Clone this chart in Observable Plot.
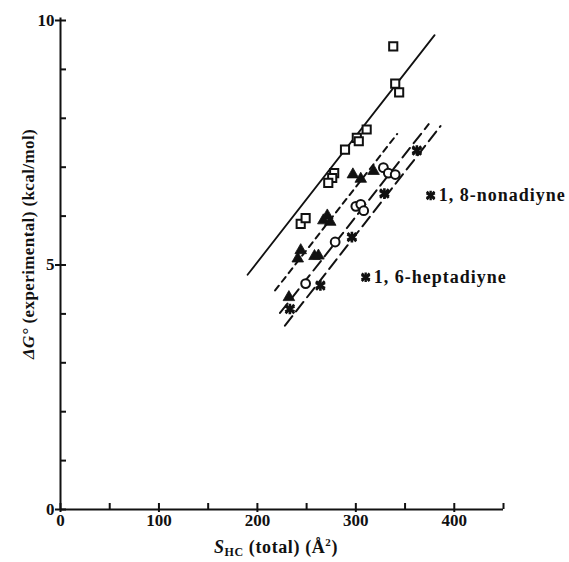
<!DOCTYPE html>
<html><head><meta charset="utf-8">
<script src="https://cdn.jsdelivr.net/npm/d3@7"></script>
<script src="https://cdn.jsdelivr.net/npm/@observablehq/plot@0.6"></script>
<style>body{margin:0;background:#fff}svg{font-family:"Liberation Serif","DejaVu Serif",serif}</style>
</head><body><div id="chart"></div>
<script>
// Data
const squaresX = [338, 340, 344, 311, 301, 303, 289, 278, 276, 272, 244, 249];
const squaresY = [9.47, 8.71, 8.53, 7.77, 7.60, 7.53, 7.36, 6.88, 6.78, 6.68, 5.84, 5.96];
const trianglesX = [297, 305, 318, 271, 274, 267, 244, 241, 262, 258, 232];
const trianglesY = [6.85, 6.76, 6.92, 6.01, 5.88, 5.91, 5.30, 5.13, 5.19, 5.18, 4.34];
const circlesX = [328, 333, 340, 300, 305, 308, 279, 249];
const circlesY = [6.99, 6.88, 6.85, 6.20, 6.24, 6.11, 5.47, 4.62];
const starsX = [362, 329, 296, 264, 233];
const starsY = [7.34, 6.46, 5.57, 4.58, 4.10];
const labelNames = ["1, 8-nonadiyne", "1, 6-heptadiyne"];
const labelX = [376, 310];
const labelY = [6.42, 4.75];
const solidLine = [[190, 4.8], [380, 9.7]];
const shortDashLine = [[218, 4.48], [342, 7.68]];
const longDashLine1 = [[223, 4.02], [374, 7.88]];
const longDashLine2 = [[228, 3.76], [386, 7.84]];
const xMinorTicks = d3.range(0, 451, 50);
const xLabelTicks = [0, 100, 200, 300, 400];
const yMinorTicks = d3.range(0, 11, 1);
const yLabelTicks = [0, 5, 10];

const pts = (xs, ys) => xs.map((x, i) => ({x, y: ys[i]}));
const labels = labelNames.map((name, i) => ({name, x: labelX[i], y: labelY[i]}));
const line = (arr) => arr.map(([x, y]) => ({x, y}));

const plot = Plot.plot({
  width: 569, height: 562,
  marginLeft: 60, marginRight: 66, marginTop: 20, marginBottom: 53,
  x: {domain: [0, 450]},
  y: {domain: [0, 10]},
  style: {fontFamily: '"Liberation Serif", serif', fontSize: "17px", fontWeight: "bold", color: "#111"},
  marks: [
    Plot.ruleY([0], {x1: 0, x2: 450, strokeWidth: 2, stroke: "#111"}),
    Plot.ruleX([0], {y1: 0, y2: 10.05, strokeWidth: 2, stroke: "#111"}),
    Plot.axisX({ticks: xMinorTicks, tickSize: -6, tickFormat: () => "", strokeWidth: 2, label: null}),
    Plot.axisX({ticks: xLabelTicks, tickSize: 3, tickPadding: 1, strokeWidth: 2, fontSize: 17, fontWeight: "bold", label: null}),
    Plot.axisY({ticks: yMinorTicks, tickSize: -6, tickFormat: () => "", strokeWidth: 2, label: null}),
    Plot.axisY({ticks: yLabelTicks, tickSize: 5, tickPadding: 1, strokeWidth: 2, fontSize: 17, fontWeight: "bold", label: null}),
    Plot.line(line(solidLine), {x: "x", y: "y", stroke: "#111", strokeWidth: 1.8}),
    Plot.line(line(shortDashLine), {x: "x", y: "y", stroke: "#111", strokeWidth: 2, strokeDasharray: "6,5"}),
    Plot.line(line(longDashLine1), {x: "x", y: "y", stroke: "#111", strokeWidth: 2, strokeDasharray: "12,6"}),
    Plot.line(line(longDashLine2), {x: "x", y: "y", stroke: "#111", strokeWidth: 2, strokeDasharray: "12,6"}),
    Plot.dot(pts(squaresX, squaresY), {x: "x", y: "y", symbol: "square", r: 4.6, stroke: "#111", strokeWidth: 2, fill: "#fff"}),
    Plot.dot(pts(circlesX, circlesY), {x: "x", y: "y", symbol: "circle", r: 4.4, stroke: "#111", strokeWidth: 2, fill: "#fff"}),
    Plot.dot(pts(trianglesX, trianglesY), {x: "x", y: "y", symbol: "triangle", r: 4.3, fill: "#111", stroke: "#111", strokeWidth: 0.8}),
    Plot.dot(pts(starsX, starsY), {x: "x", y: "y", symbol: "asterisk", r: 5, stroke: "#111", strokeWidth: 2.6}),
    Plot.dot(pts(starsX, starsY), {x: "x", y: "y", symbol: "times", r: 4, stroke: "#111", strokeWidth: 2.6}),
    Plot.dot(labels, {x: "x", y: "y", symbol: "asterisk", r: 4.5, stroke: "#111", strokeWidth: 2.4}),
    Plot.dot(labels, {x: "x", y: "y", symbol: "times", r: 3.6, stroke: "#111", strokeWidth: 2.4}),
    Plot.text(labels, {x: "x", y: "y", text: "name", dx: 8, textAnchor: "start", fontSize: 18, fontWeight: "bold", fill: "#111"})
  ]
});

const svg = d3.select(plot);
svg.selectAll("text").filter(function() { return this.textContent.includes("diyne"); })
  .attr("letter-spacing", "1px");
// axis title (x)
const xt = svg.append("text").attr("x", 276).attr("y", 553).attr("text-anchor", "middle")
  .attr("font-size", 18).attr("font-weight", "bold").attr("fill", "#111").attr("letter-spacing", "0.6px");
xt.append("tspan").attr("font-style", "italic").text("S");
xt.append("tspan").attr("font-size", 12).attr("dy", 3).text("HC");
xt.append("tspan").attr("dy", -3).text(" (total) (Å");
xt.append("tspan").attr("font-size", 11).attr("dy", -7).text("2");
xt.append("tspan").attr("dy", 7).text(")");
// axis title (y)
const yt = svg.append("text").attr("transform", "translate(34,244) rotate(-90)").attr("text-anchor", "middle")
  .attr("font-size", 17).attr("font-weight", "bold").attr("fill", "#111").attr("letter-spacing", "0.4px");
yt.append("tspan").attr("font-style", "italic").text("ΔG°");
yt.append("tspan").text(" (experimental) (kcal/mol)");

document.getElementById("chart").appendChild(plot);
</script>
</body></html>
